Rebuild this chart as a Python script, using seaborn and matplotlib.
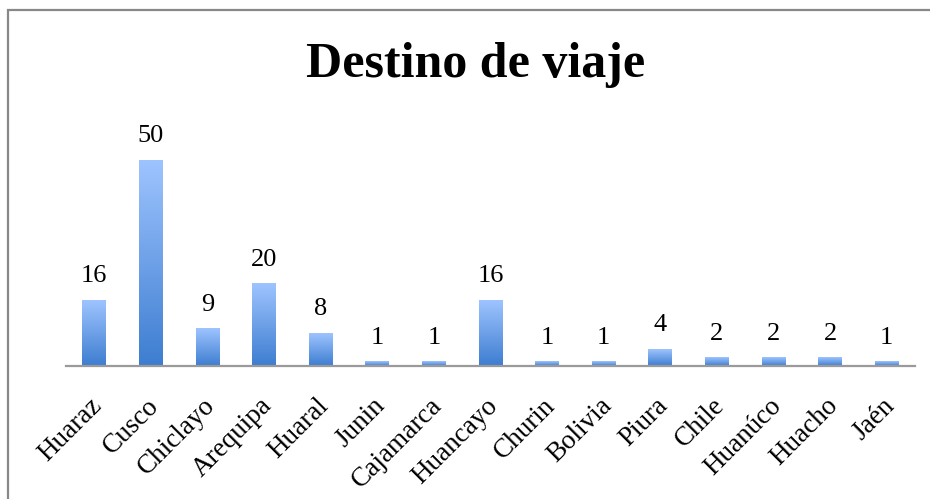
import numpy as np
import pandas as pd
import matplotlib
matplotlib.use("Agg")
import matplotlib.pyplot as plt
from matplotlib.colors import LinearSegmentedColormap
from matplotlib.patches import Rectangle
from matplotlib.transforms import ScaledTranslation
import seaborn as sns

# Datos
destinos = ['Huaraz', 'Cusco', 'Chiclayo', 'Arequipa', 'Huaral', 'Junin',
            'Cajamarca', 'Huancayo', 'Churin', 'Bolivia', 'Piura', 'Chile',
            'Huanúco', 'Huacho', 'Jaén']
conteos = [16, 50, 9, 20, 8, 1, 1, 16, 1, 1, 4, 2, 2, 2, 1]

df = pd.DataFrame({'Destino': destinos, 'Cantidad': conteos})

sns.set_style('white')
plt.rcParams['font.family'] = ['Liberation Serif', 'DejaVu Serif']
plt.rcParams['text.color'] = 'black'
plt.rcParams['xtick.color'] = 'black'

fig = plt.figure(figsize=(9.3, 4.99), dpi=100)
ax = fig.add_axes([66/930, 133/499, (915-66)/930, 247/499])

sns.barplot(data=df, x='Destino', y='Cantidad', color='#6a9be6', width=0.42, ax=ax)

# degradado en cada barra (claro arriba, oscuro abajo)
cmap = LinearSegmentedColormap.from_list('azul', ['#3d7dd0', '#9ec4ff'])
grad = np.linspace(0, 1, 256).reshape(-1, 1)
for p in ax.patches:
    x0, w, h = p.get_x(), p.get_width(), p.get_height()
    p.set_facecolor('none')
    p.set_edgecolor('none')
    ax.imshow(grad, extent=[x0, x0 + w, 0, h], origin='lower', aspect='auto',
              cmap=cmap, zorder=2)
    ax.annotate(f'{int(h)}', (x0 + w/2, h), xytext=(0, 13), textcoords='offset points',
                ha='center', va='baseline', fontsize=19, color='black')

ax.set_xlim(-0.5, len(destinos) - 0.5)
ax.set_ylim(0, 60)
ax.set_xlabel('')
ax.set_ylabel('')
ax.set_yticks([])
ax.tick_params(axis='x', length=0, pad=26)
desplaza = ScaledTranslation(4/100, 0, fig.dpi_scale_trans)
for lab in ax.get_xticklabels():
    lab.set_rotation(45)
    lab.set_ha('right')
    lab.set_va('center')
    lab.set_rotation_mode('anchor')
    lab.set_fontsize(19.5)
    lab.set_transform(lab.get_transform() + desplaza)
for s in ['top', 'right', 'left']:
    ax.spines[s].set_visible(False)
ax.spines['bottom'].set_color('#9a9a9a')
ax.spines['bottom'].set_linewidth(1.6)

fig.text(476/930, 1 - 77/499, 'Destino de viaje', ha='center', va='baseline',
         fontsize=36, fontweight='bold', color='black')

# marco del gráfico
fig.patches.append(Rectangle((8/930, -0.1), 1.1, 1.1 - 10/499, transform=fig.transFigure,
                             fill=False, edgecolor='#888888', linewidth=1.6))

fig.savefig('out.png', dpi=100)
